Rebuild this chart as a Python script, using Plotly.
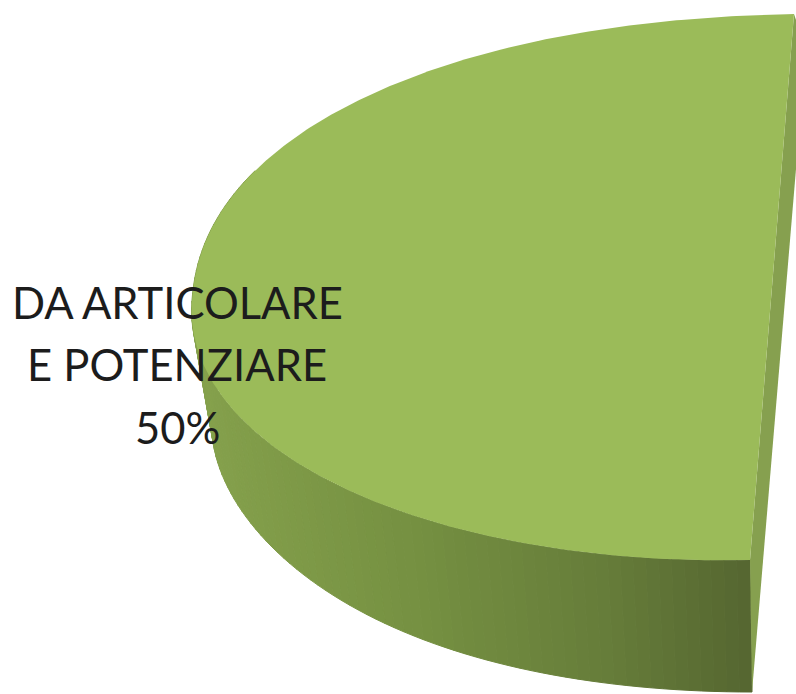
import numpy as np
import plotly.graph_objects as go

categories = ["DA ARTICOLARE E POTENZIARE"]
label_lines = ["DA ARTICOLARE", "E POTENZIARE", "50%"]
shares = [50]
top_colour = "#9BBB59"
cut_colour = "#86A04F"

# Projection of the tilted 3D disc on the 796x694 page
W, H = 796, 694
top_c = np.array([772.0, 287.0]); top_u = np.array([-580.0, 13.0]); top_v = np.array([22.0, -273.0])
bot_c = np.array([772.0, 440.0]); bot_u = np.array([-560.0, 0.0]); bot_v = np.array([20.0, -252.0])

half = np.pi * shares[0] / 100.0


def ring_top(th):
    c = np.cos(th)
    s = np.sin(th)
    # the far half of the rim is slightly fuller because of the perspective
    cc = np.where(s > 0, np.abs(c) ** 0.909, c)
    ss = np.where(s > 0, np.abs(s) ** 0.909, s)
    return (top_c[0] + top_u[0] * cc + top_v[0] * ss,
            top_c[1] + top_u[1] * cc + top_v[1] * ss)


def ring_bot(th):
    c = np.cos(th)
    s = np.sin(th)
    return (bot_c[0] + bot_u[0] * c + bot_v[0] * s,
            bot_c[1] + bot_u[1] * c + bot_v[1] * s - 25 * c ** 4)


def side_colour(x):
    f = np.clip((x - 200) / 550, 0, 1)
    stops = [(0.0, (134, 162, 77)), (0.4, (118, 145, 66)), (0.75, (102, 125, 58)), (1.0, (86, 103, 49))]
    for (a, ca), (b, cb) in zip(stops, stops[1:]):
        if f <= b:
            t = (f - a) / (b - a)
            r, g, bl = [int(ca[i] + (cb[i] - ca[i]) * t) for i in range(3)]
            return f"rgb({r},{g},{bl})"
    return "rgb(86,103,49)"


fig = go.Figure()

# Outer wall, drawn as thin strips to carry the shading
edges = np.linspace(-half, 0.45, 90)
for a, b in zip(edges[:-1], edges[1:]):
    th = np.array([a, b])
    tx, ty = ring_top(th)
    bx, by = ring_bot(th)
    col = side_colour(float(np.mean(bx)))
    fig.add_trace(go.Scatter(x=[tx[0], tx[1], bx[1], bx[0], tx[0]], y=[ty[0], ty[1], by[1], by[0], ty[0]],
                             mode="lines", fill="toself", fillcolor=col, line=dict(color=col, width=1),
                             hoverinfo="skip", showlegend=False))

# Cut face
ex, ey = ring_top(np.array([half, -half]))
nx, ny = ring_bot(np.array([-half]))
fig.add_trace(go.Scatter(x=[ex[0], ex[1], nx[0], 806, ex[0]], y=[ey[0], ey[1], ny[0], 50, ey[0]],
                         mode="lines", fill="toself", fillcolor=cut_colour, line=dict(color=cut_colour, width=0),
                         hoverinfo="skip", showlegend=False))

# Top face
th = np.linspace(-half, half, 400)
x, y = ring_top(th)
fig.add_trace(go.Scatter(x=x, y=y, mode="lines", fill="toself", fillcolor=top_colour,
                         line=dict(color=top_colour, width=0), name=categories[0],
                         hoverinfo="skip", showlegend=False))

for line, base in zip(label_lines, [320, 382, 445]):
    fig.add_annotation(x=177, y=base, text=line, showarrow=False, xanchor="center", yanchor="bottom",
                       yshift=-10, font=dict(family="Lato", size=43.5, color="#1c1c1c"))

fig.update_xaxes(range=[0, W], visible=False, fixedrange=True)
fig.update_yaxes(range=[H, 0], visible=False, fixedrange=True)
fig.update_layout(width=W, height=H, margin=dict(l=0, r=0, t=0, b=0),
                  paper_bgcolor="white", plot_bgcolor="white")
fig.write_html("out.html", config=dict(displayModeBar=False),
               post_script="document.body.style.margin='0';document.body.style.overflow='hidden';")
